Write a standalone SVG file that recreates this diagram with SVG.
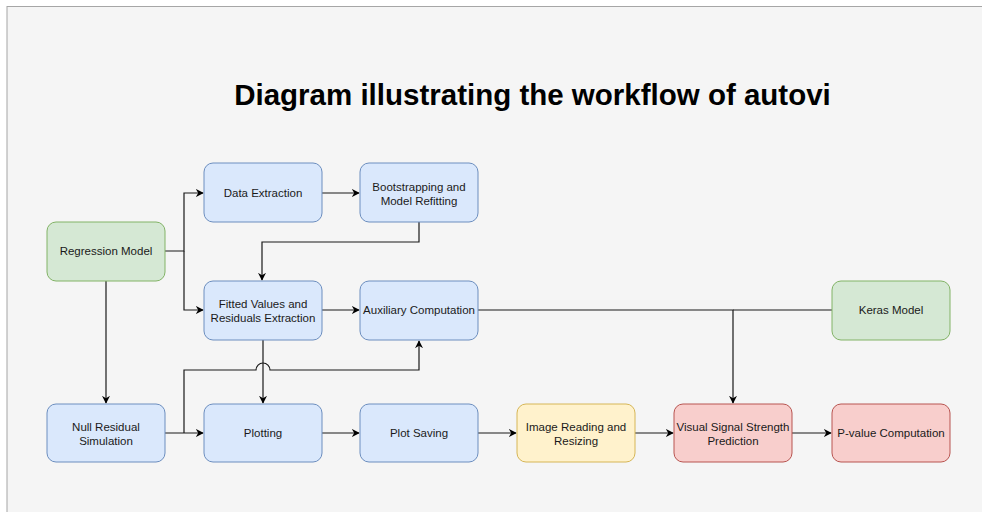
<svg xmlns="http://www.w3.org/2000/svg" width="982" height="512" viewBox="0 0 982 512">
<defs>
<style>
.n rect{stroke-width:1}
.blue rect{fill:#dae8fc;stroke:#6c8ebf}
.green rect{fill:#d5e8d4;stroke:#82b366}
.yellow rect{fill:#fff2cc;stroke:#d6b656}
.red rect{fill:#f8cecc;stroke:#b85450}
.n text{font-family:"Liberation Sans",Arial,sans-serif;font-size:11.5px;fill:#1a1a1a;text-anchor:middle}
#connectors path{fill:none;stroke:#1a1a1a;stroke-width:1.2}
.t{font-family:"Liberation Sans",Arial,sans-serif;font-size:29.5px;font-weight:bold;fill:#000;text-anchor:middle}
</style>
<marker id="ah" viewBox="0 0 10 10" refX="9" refY="5" markerWidth="8" markerHeight="8" markerUnits="userSpaceOnUse" orient="auto">
<path d="M0,0 L10,5 L0,10 L3,5 Z" fill="#000"/>
</marker>
</defs>
<rect x="0" y="0" width="982" height="512" fill="#ffffff"/>
<rect x="7" y="6.5" width="990" height="520" fill="#f5f5f5" stroke="#a6a6a6" stroke-width="1"/>
<text class="t" x="532.5" y="105">Diagram illustrating the workflow of autovi</text>

<g id="connectors">
<path d="M165,251 H184 V193 H203" marker-end="url(#ah)"/>
<path d="M184,251 V310 H203" marker-end="url(#ah)"/>
<path d="M322,193 H359" marker-end="url(#ah)"/>
<path d="M419,222 V242 H262 V280" marker-end="url(#ah)"/>
<path d="M322,310 H359" marker-end="url(#ah)"/>
<path d="M106,281 V403" marker-end="url(#ah)"/>
<path d="M165,433 H203" marker-end="url(#ah)"/>
<path d="M184,433 V370 H256 A7,7 0 0 1 270,370 H419 V341" marker-end="url(#ah)"/>
<path d="M263,340 V403" marker-end="url(#ah)"/>
<path d="M322,433 H359" marker-end="url(#ah)"/>
<path d="M478,433 H516" marker-end="url(#ah)"/>
<path d="M635,433 H673" marker-end="url(#ah)"/>
<path d="M792,433 H831" marker-end="url(#ah)"/>
<path d="M478,310 H733 V403" marker-end="url(#ah)"/>
<path d="M832,310 H733"/>
</g>

<g id="regression-model" class="n green"><rect x="47" y="222" width="118" height="59" rx="9"/><text x="106" y="255">Regression Model</text></g>
<g id="data-extraction" class="n blue"><rect x="204" y="163" width="118" height="59" rx="9"/><text x="263" y="197">Data Extraction</text></g>
<g id="bootstrapping" class="n blue"><rect x="360" y="163" width="118" height="59" rx="9"/><text x="419" y="191">Bootstrapping and</text><text x="419" y="204.5">Model Refitting</text></g>
<g id="fitted-values" class="n blue"><rect x="204" y="281" width="118" height="59" rx="9"/><text x="263" y="308">Fitted Values and</text><text x="263" y="321.5">Residuals Extraction</text></g>
<g id="auxiliary" class="n blue"><rect x="360" y="281" width="118" height="59" rx="9"/><text x="419" y="314">Auxiliary Computation</text></g>
<g id="keras-model" class="n green"><rect x="832" y="281" width="118" height="59" rx="9"/><text x="891" y="314">Keras Model</text></g>
<g id="null-residual" class="n blue"><rect x="47" y="404" width="118" height="58" rx="9"/><text x="106" y="431">Null Residual</text><text x="106" y="444.5">Simulation</text></g>
<g id="plotting" class="n blue"><rect x="204" y="404" width="118" height="58" rx="9"/><text x="263" y="437">Plotting</text></g>
<g id="plot-saving" class="n blue"><rect x="360" y="404" width="118" height="58" rx="9"/><text x="419" y="437">Plot Saving</text></g>
<g id="image-reading" class="n yellow"><rect x="517" y="404" width="118" height="58" rx="9"/><text x="576" y="431">Image Reading and</text><text x="576" y="444.5">Resizing</text></g>
<g id="visual-signal" class="n red"><rect x="674" y="404" width="118" height="58" rx="9"/><text x="733" y="431">Visual Signal Strength</text><text x="733" y="444.5">Prediction</text></g>
<g id="p-value" class="n red"><rect x="832" y="404" width="118" height="58" rx="9"/><text x="891" y="437">P-value Computation</text></g>
</svg>
